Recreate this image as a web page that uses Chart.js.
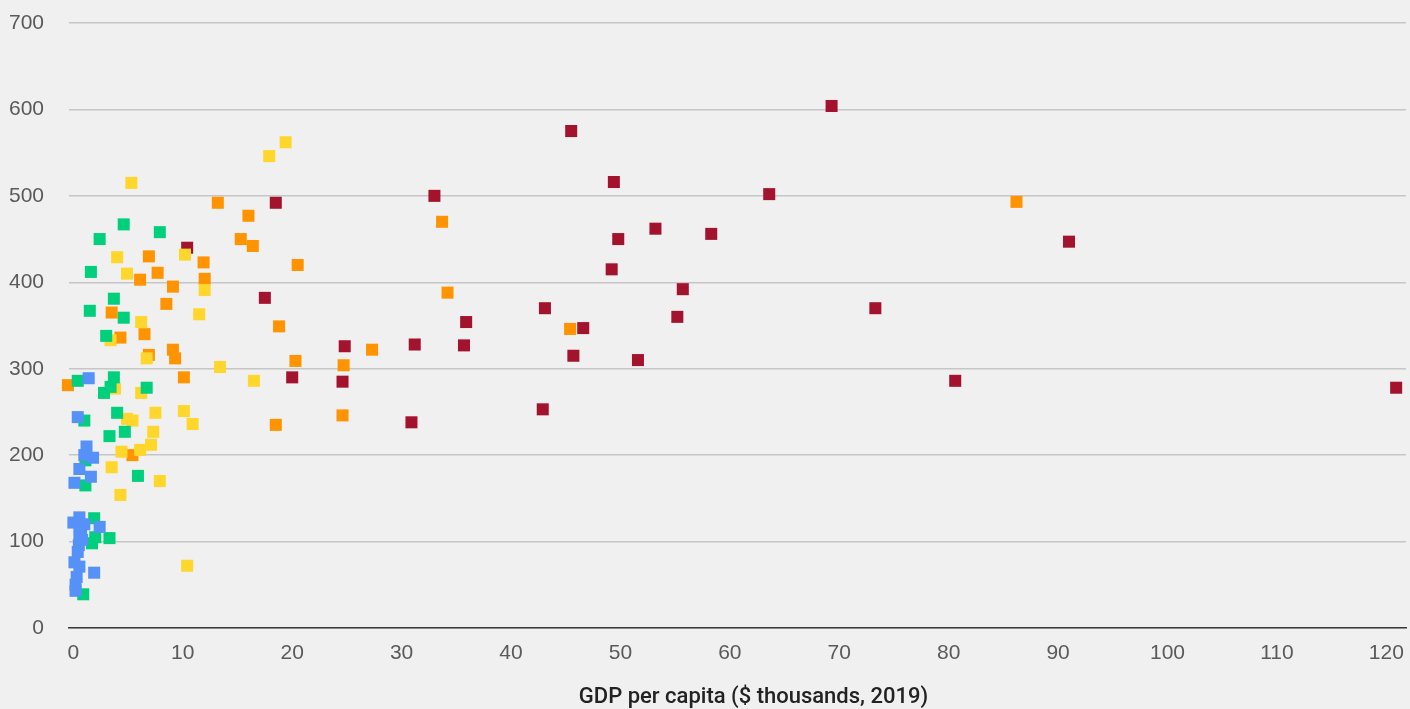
<!DOCTYPE html>
<html>
<head>
<meta charset="utf-8">
<title>GDP per capita scatter</title>
<script src="https://cdn.jsdelivr.net/npm/chart.js@4.4.1/dist/chart.umd.min.js"></script>
<style>
	html, body { margin: 0; padding: 0; background: #f0f0f0; }
	#wrap { width: 1410px; height: 709px; }
</style>
</head>
<body>
<div id="wrap"><canvas id="gdpScatter"></canvas></div>
<script>
// [GDP per capita ($ thousands), value]
const bluePoints = [
	[1.4, 289], [0.4, 244], [1.2, 210], [1.0, 200], [1.8, 197], [0.55, 184],
	[1.6, 175], [0.1, 168], [0.55, 128], [0.0, 122], [1.0, 120], [2.4, 117],
	[0.7, 114], [0.55, 110], [0.8, 102], [0.5, 96], [0.4, 88], [0.1, 76],
	[0.55, 71], [1.9, 64], [0.3, 59], [0.2, 50], [0.2, 43]
];
const greenPoints = [
	[4.6, 467], [2.4, 450], [7.9, 458], [1.6, 412], [3.7, 381], [1.5, 367],
	[4.6, 359], [3.0, 338], [0.4, 286], [3.7, 290], [6.7, 278], [3.4, 279],
	[2.8, 272], [1.0, 240], [4.0, 249], [4.7, 227], [3.3, 222], [5.9, 176],
	[1.1, 194], [1.1, 165], [1.9, 127], [2.0, 105], [1.7, 98], [3.3, 104],
	[0.9, 39]
];
const yellowPoints = [
	[19.4, 562], [17.9, 546], [5.3, 515], [4.0, 429], [4.9, 410], [10.2, 432],
	[12.0, 391], [11.5, 363], [6.2, 354], [3.4, 333], [6.7, 312], [13.4, 302],
	[16.5, 286], [3.8, 277], [6.2, 272], [4.9, 242], [5.4, 240], [7.5, 249],
	[10.1, 251], [10.9, 236], [7.3, 227], [7.1, 212], [6.1, 206], [4.4, 204],
	[3.5, 186], [7.9, 170], [4.3, 154], [10.4, 72]
];
const orangePoints = [
	[-0.5, 281], [13.2, 492], [16.0, 477], [15.3, 450], [16.4, 442], [20.5, 420],
	[11.9, 423], [6.9, 430], [7.7, 411], [6.1, 403], [12.0, 404], [9.1, 395],
	[8.5, 375], [3.5, 365], [4.3, 336], [6.5, 340], [6.9, 316], [9.1, 322],
	[9.3, 312], [18.8, 349], [20.3, 309], [10.1, 290], [24.7, 304], [24.6, 246],
	[18.5, 235], [5.4, 200], [27.3, 322], [33.7, 470], [34.2, 388], [45.4, 346],
	[86.2, 493]
];
const redPoints = [
	[10.4, 440], [18.5, 492], [17.5, 382], [20.0, 290], [24.8, 326], [24.6, 285],
	[33.0, 500], [31.2, 328], [30.9, 238], [35.9, 354], [35.7, 327], [45.5, 575],
	[43.1, 370], [42.9, 253], [45.7, 315], [46.6, 347], [49.4, 516], [49.8, 450],
	[49.2, 415], [53.2, 462], [55.7, 392], [55.2, 360], [51.6, 310], [58.3, 456],
	[63.6, 502], [69.3, 604], [73.3, 370], [80.6, 286], [91.0, 447], [120.9, 278]
];

const xTitle = "GDP per capita ($ thousands, 2019)";

const toXY = (pts) => pts.map(([x, y]) => ({ x, y }));

// first dataset is painted on top in Chart.js, so blue goes first
const series = [
	{ pts: bluePoints, color: "#5591f7" },
	{ pts: greenPoints, color: "#00cf7b" },
	{ pts: yellowPoints, color: "#ffd62b" },
	{ pts: orangePoints, color: "#ff9400" },
	{ pts: redPoints, color: "#a4132e" },
];

// axis title sits a bit right of the plot centre in the original
const xTitlePlugin = {
	id: "xTitle",
	afterDraw(chart) {
		const { ctx, chartArea } = chart;
		ctx.save();
		ctx.font = "500 22px Roboto";
		ctx.fillStyle = "#222222";
		ctx.textAlign = "center";
		ctx.textBaseline = "middle";
		ctx.fillText(xTitle, (chartArea.left + chartArea.right) / 2 + 16, chart.height - 12);
		ctx.restore();
	},
};

const ctx = document.getElementById("gdpScatter").getContext("2d");

new Chart(ctx, {
	type: "scatter",
	data: {
		datasets: series.map((s) => ({
			data: toXY(s.pts),
			backgroundColor: s.color,
			borderWidth: 0,
			pointStyle: "rect",
			pointRadius: 8.5,
			pointHoverRadius: 8.5,
			clip: false,
		})),
	},
	plugins: [xTitlePlugin],
	options: {
		responsive: true,
		maintainAspectRatio: false,
		animation: false,
		events: [],
		layout: { autoPadding: false, padding: { top: 23, left: 0, right: 4, bottom: 0 } },
		plugins: {
			legend: { display: false },
			tooltip: { enabled: false },
		},
		scales: {
			x: {
				type: "linear",
				min: -0.4,
				max: 121.8,
				grid: { display: false, drawTicks: false },
				border: { display: true, color: "#3a3a3a", width: 1.5 },
				ticks: {
					stepSize: 10,
					includeBounds: false,
					padding: 13,
					color: "#5a5a5a",
					maxRotation: 0,
					autoSkip: false,
					font: { family: "Liberation Sans", size: 21 },
				},
				title: { display: false },
				// chart.js reserves twice the tick padding, pin the box size instead
				afterFit: (scale) => {
					scale.height = 81;
					scale.paddingLeft = 0;
					scale.paddingRight = 0;
				},
			},
			y: {
				min: 0,
				max: 700,
				grid: { color: "#c6c6c6", lineWidth: 1.5, drawTicks: false },
				border: { display: false },
				ticks: {
					stepSize: 100,
					padding: 25,
					color: "#5a5a5a",
					font: { family: "Liberation Sans", size: 21 },
				},
				afterFit: (scale) => {
					scale.width = 69;
					scale.paddingTop = 0;
					scale.paddingBottom = 0;
				},
			},
		},
	},
});
</script>
</body>
</html>
